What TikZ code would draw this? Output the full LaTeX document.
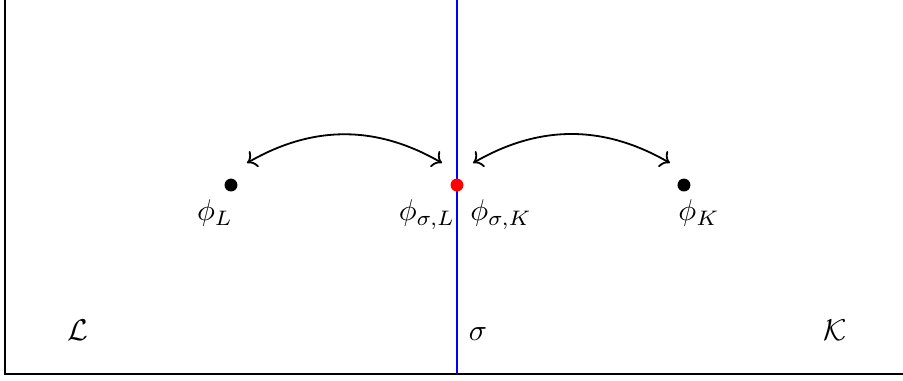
\documentclass[tikz,border=0pt]{standalone}
\usepackage{amsmath}
\usepackage{amssymb}
\usepackage{tikz}
\usetikzlibrary{arrows.meta, positioning, calc}

\begin{document}
\begin{tikzpicture}[
  cell/.style={draw=black, thick},
  face/.style={draw=blue, semithick},
  dot/.style={circle, fill=black, inner sep=0pt, minimum size=4.3pt},
  fdot/.style={dot, fill=red},
  lbl/.style={anchor=base, inner sep=0pt},
  link/.style={<->, semithick}
]
  \clip (0,0) rectangle (10.574,4.45);

  % cells and common face
  \draw[cell] (0.059,0.07) rectangle (10.8,4.7);
  \coordinate (sb) at (5.351,0.07);
  \coordinate (st) at (5.351,4.7);
  \draw[face] (sb) -- (st);

  \node[dot]  (xL) at (2.705,2.283) {};
  \node[fdot] (xS) at (5.351,2.283) {};
  \node[dot]  (xK) at (8.009,2.283) {};

  \node[lbl] (phiL)  at (2.518,1.862) {$\phi_L$};
  \node[lbl] (phiSL) at (5.000,1.862) {$\phi_{\sigma,L}$};
  \node[lbl] (phiSK) at (5.867,1.862) {$\phi_{\sigma,K}$};
  \node[lbl] (phiK)  at (8.185,1.862) {$\phi_K$};

  \coordinate (aL1) at (2.892,2.541);
  \coordinate (aL2) at (5.176,2.541);
  \coordinate (aK1) at (5.539,2.541);
  \coordinate (aK2) at (7.845,2.541);
  \draw[link] (aL1) to[bend left=30] (aL2);
  \draw[link] (aK1) to[bend left=30] (aK2);

  \node[lbl] (nL) at (0.913,0.468) {$\mathcal{L}$};
  \node[lbl] (nS) at (5.597,0.468) {$\sigma$};
  \node[lbl] (nK) at (9.778,0.468) {$\mathcal{K}$};
\end{tikzpicture}
\end{document}
